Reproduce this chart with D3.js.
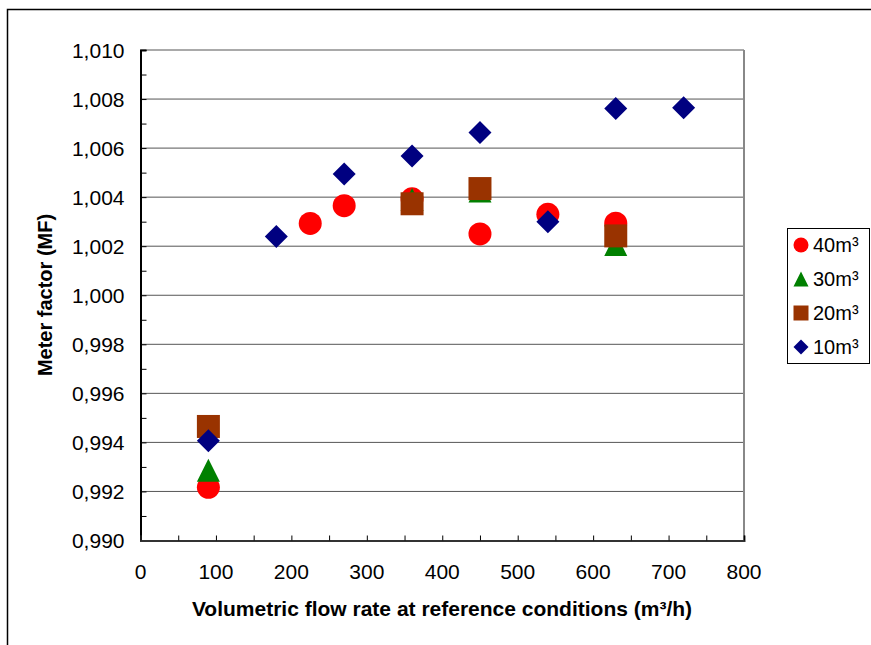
<!DOCTYPE html>
<html>
<head>
<meta charset="utf-8">
<script src="https://cdn.jsdelivr.net/npm/d3@7"></script>
<style>
  body { margin: 0; background: #fff; }
  text { font-family: "Liberation Sans", Arial, sans-serif; }
</style>
</head>
<body>
<div id="chart"></div>
<script>
// data
var flow40 = [90, 225, 270, 360, 450, 540, 630];
var mf40 = [0.99217, 1.00293, 1.00365, 1.00393, 1.00250, 1.00330, 1.00294];

var flow30 = [90, 360, 450, 630];
var mf30 = [0.99286, 1.00390, 1.00425, 1.00207];

var flow20 = [90, 360, 450, 630];
var mf20 = [0.99465, 1.00373, 1.00435, 1.00242];

var flow10 = [90, 180, 270, 360, 450, 540, 630, 720];
var mf10 = [0.99407, 1.00240, 1.00494, 1.00568, 1.00664, 1.00300, 1.00761, 1.00765];

var seriesNames = ["40m³", "30m³", "20m³", "10m³"];
var xTicks = [0, 100, 200, 300, 400, 500, 600, 700, 800];
var yTicks = [0.990, 0.992, 0.994, 0.996, 0.998, 1.000, 1.002, 1.004, 1.006, 1.008, 1.010];

// excel-like marker shapes, drawn in a box of side s
function marker(kind, s) {
    var h = s / 2;
    if (kind === "circle") return d3.symbol().type(d3.symbolCircle).size(Math.PI * h * h)();
    if (kind === "square") return "M" + -h + "," + -h + "H" + h + "V" + h + "H" + -h + "Z";
    if (kind === "triangle") return "M0," + -h + "L" + h + "," + h + "L" + -h + "," + h + "Z";
    return "M0," + -h + "L" + h + ",0L0," + h + "L" + -h + ",0Z";
}

var series = [
  { name: seriesNames[0], xs: flow40, ys: mf40, shape: "circle", color: "#ff0000" },
  { name: seriesNames[1], xs: flow30, ys: mf30, shape: "triangle", color: "#008000" },
  { name: seriesNames[2], xs: flow20, ys: mf20, shape: "square", color: "#993300" },
  { name: seriesNames[3], xs: flow10, ys: mf10, shape: "diamond", color: "#000080" }
];

var W = 871, H = 645;
var margin = { top: 50, left: 140.5, right: 871 - 744, bottom: 645 - 540.5 };
var width = W - margin.left - margin.right,
    height = H - margin.top - margin.bottom;

var svg = d3.select("#chart").append("svg")
    .attr("width", W)
    .attr("height", H);

// chart frame
svg.append("rect")
    .attr("x", 7.5).attr("y", 9.5)
    .attr("width", 900).attr("height", 700)
    .attr("fill", "none").attr("stroke", "#000").attr("stroke-width", 1.5);

var g = svg.append("g")
    .attr("transform", "translate(" + margin.left + "," + margin.top + ")");

var x = d3.scaleLinear().domain([0, 800]).range([0, width]);
var y = d3.scaleLinear().domain([0.990, 1.010]).range([height, 0]);

var fmt = function (d) { return d3.format(".3f")(d).replace(".", ","); };

// gridlines
g.selectAll(".grid")
    .data(yTicks.slice(1))
    .enter().append("line")
    .attr("x1", 0).attr("x2", width)
    .attr("y1", function (d) { return y(d); })
    .attr("y2", function (d) { return y(d); })
    .attr("stroke", "#555").attr("stroke-width", 1);

// right border
g.append("line")
    .attr("x1", width).attr("x2", width)
    .attr("y1", 0).attr("y2", height)
    .attr("stroke", "#888").attr("stroke-width", 2);

// y axis (ticks inside)
var yAxis = g.append("g")
    .call(d3.axisLeft(y)
        .tickValues(d3.range(0.990, 1.0105, 0.001))
        .tickSize(-6)
        .tickFormat(""));
yAxis.select(".domain").attr("stroke-width", 2);
g.selectAll(".ylab")
    .data(yTicks)
    .enter().append("text")
    .attr("x", -16)
    .attr("y", function (d) { return y(d) + 7.5; })
    .attr("text-anchor", "end")
    .attr("font-size", "21px")
    .text(fmt);

// x axis (ticks inside)
var xAxis = g.append("g")
    .attr("transform", "translate(0," + height + ")")
    .call(d3.axisBottom(x)
        .tickValues(d3.range(0, 801, 50))
        .tickSize(-5)
        .tickFormat(""));
xAxis.select(".domain").attr("stroke-width", 2).attr("stroke", "#333");
g.selectAll(".xlab")
    .data(xTicks)
    .enter().append("text")
    .attr("x", function (d) { return x(d); })
    .attr("y", height + 38.5)
    .attr("text-anchor", "middle")
    .attr("font-size", "21px")
    .text(function (d) { return d; });

// axis titles
svg.append("text")
    .attr("x", 442).attr("y", 616)
    .attr("text-anchor", "middle")
    .attr("font-size", "21px").attr("font-weight", "bold")
    .text("Volumetric flow rate at reference conditions (m³/h)");

svg.append("text")
    .attr("transform", "translate(51.5,295) rotate(-90)")
    .attr("text-anchor", "middle")
    .attr("font-size", "20px").attr("font-weight", "bold")
    .text("Meter factor (MF)");

// points
series.forEach(function (s) {
    g.selectAll(null)
        .data(s.xs.map(function (v, i) { return [v, s.ys[i]]; }))
        .enter().append("path")
        .attr("d", marker(s.shape, 23))
        .attr("transform", function (d) { return "translate(" + x(d[0]) + "," + y(d[1]) + ")"; })
        .attr("fill", s.color);
});

// legend
var leg = svg.append("g").attr("transform", "translate(787,228)");
leg.append("rect")
    .attr("x", 0.5).attr("y", 0.5)
    .attr("width", 82).attr("height", 135)
    .attr("fill", "#fff").attr("stroke", "#000").attr("stroke-width", 1);
series.forEach(function (s, i) {
    var cy = 17 + i * 34;
    leg.append("path")
        .attr("d", marker(s.shape, 15))
        .attr("transform", "translate(14," + cy + ")")
        .attr("fill", s.color);
    leg.append("text")
        .attr("x", 26).attr("y", cy + 7)
        .attr("font-size", "20px")
        .text(s.name);
});
</script>
</body>
</html>
